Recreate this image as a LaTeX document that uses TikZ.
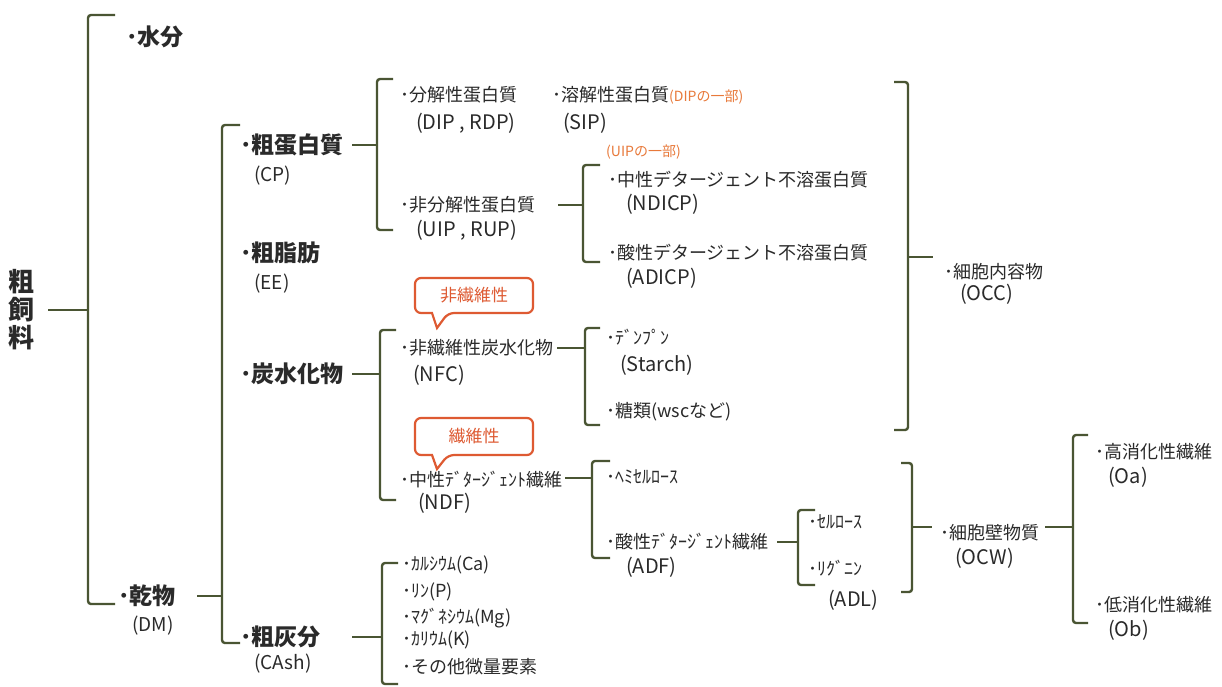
\documentclass[tikz,border=0pt]{standalone}
\usepackage{fontspec}
\setmainfont{Noto Sans CJK JP}
\definecolor{brc}{HTML}{4A5533}
\definecolor{txt}{HTML}{2A2A2A}
\definecolor{orc}{HTML}{E8793A}
\definecolor{clc}{HTML}{DE5A32}
\begin{document}
\begin{tikzpicture}[x=1pt,y=-1pt,
  br/.style={draw=brc,line width=2.4pt,rounded corners=3pt},
  tk/.style={draw=brc,line width=2.4pt},
  t/.style={anchor=west,inner sep=0pt,text=txt},
  big/.style={t,font=\fontsize{23}{23}\selectfont\bfseries},
  bab/.style={t,font=\fontsize{19}{19}\selectfont},
  mid/.style={t,font=\fontsize{18}{18}\selectfont},
  abb/.style={t,font=\fontsize{20}{20}\selectfont},
  ortx/.style={t,text=orc,font=\fontsize{14}{14}\selectfont},
  call/.style={draw=clc,line width=2.2pt,fill=white},
  calltext/.style={inner sep=0pt,text=clc,font=\fontsize{17}{17}\selectfont}]
\useasboundingbox (0,0) rectangle (1222,686);
\fill[white] (0,0) rectangle (1222,686);

% ---------- texts ----------
\node[t,align=center,anchor=center,font=\fontsize{26}{28}\selectfont\bfseries] (root) at (22,310) {粗\\飼\\料};
\node[big] (water) at (126,37) {･水分};
\node[big] (dm) at (118,596) {･乾物};
\node[bab] (dmab) at (132,626) {(DM)};

\node[big] (cp) at (240,145) {･粗蛋白質};
\node[bab] (cpab) at (254,176) {(CP)};
\node[big] (ee) at (240,253) {･粗脂肪};
\node[bab] (eeab) at (254,284) {(EE)};
\node[big] (cho) at (240,374) {･炭水化物};
\node[big] (ash) at (240,637) {･粗灰分};
\node[bab] (ashab) at (254,664) {(CAsh)};

\node[mid] (dip) at (400,95) {･分解性蛋白質};
\node[abb] (dipab) at (416,123) {(DIP , RDP)};
\node[mid] (sip) at (552,95) {･溶解性蛋白質{\color{orc}\fontsize{14}{14}\selectfont(DIPの一部)}};
\node[abb] (sipab) at (563,123) {(SIP)};
\node[ortx] (uipp) at (606,152) {(UIPの一部)};
\node[mid] (uip) at (400,205) {･非分解性蛋白質};
\node[abb] (uipab) at (416,230) {(UIP , RUP)};
\node[mid] (ndicp) at (608,180) {･中性デタージェント不溶蛋白質};
\node[abb] (ndicpab) at (626,204) {(NDICP)};
\node[mid] (adicp) at (608,253) {･酸性デタージェント不溶蛋白質};
\node[abb] (adicpab) at (626,278) {(ADICP)};
\node[mid] (occ) at (944,272) {･細胞内容物};
\node[abb] (occab) at (960,294) {(OCC)};

\node[mid] (nfc) at (400,348) {･非繊維性炭水化物};
\node[abb] (nfcab) at (413,375) {(NFC)};
\node[mid] (starch) at (606,337) {･ﾃﾞﾝﾌﾟﾝ};
\node[abb] (starchab) at (620,365) {(Starch)};
\node[mid] (sugar) at (606,412) {･糖類(wscなど)};

\node[mid] (ndf) at (400,480) {･中性ﾃﾞﾀｰｼﾞｪﾝﾄ繊維};
\node[abb] (ndfab) at (418,503) {(NDF)};
\node[mid] (hemi) at (606,477) {･ﾍﾐｾﾙﾛｰｽ};
\node[mid] (adf) at (606,542) {･酸性ﾃﾞﾀｰｼﾞｪﾝﾄ繊維};
\node[abb] (adfab) at (626,567) {(ADF)};
\node[mid] (cell) at (808,522) {･ｾﾙﾛｰｽ};
\node[mid] (lig) at (808,568) {･ﾘｸﾞﾆﾝ};
\node[abb] (ligab) at (828,600) {(ADL)};
\node[mid] (ocw) at (940,533) {･細胞壁物質};
\node[abb] (ocwab) at (955,558) {(OCW)};
\node[mid] (oa) at (1095,452) {･高消化性繊維};
\node[abb] (oaab) at (1108,477) {(Oa)};
\node[mid] (ob) at (1095,605) {･低消化性繊維};
\node[abb] (obab) at (1108,630) {(Ob)};

\node[mid] (ca) at (402,565) {･ｶﾙｼｳﾑ(Ca)};
\node[mid] (p) at (402,592) {･ﾘﾝ(P)};
\node[mid] (mg) at (402,618) {･ﾏｸﾞﾈｼｳﾑ(Mg)};
\node[mid] (k) at (402,640) {･ｶﾘｳﾑ(K)};
\node[mid] (etc) at (402,667) {･その他微量要素};

% ---------- callouts ----------
\draw[call] (415,295) [rounded corners=6pt] -- (415,278) -- (533,278) -- (533,313) -- (448,313) [sharp corners] -- (437,328) -- (432,313) [rounded corners=6pt] -- (415,313) -- cycle;
\node[calltext] (c1) at (474,295) {非繊維性};
\draw[call] (415,436) [rounded corners=6pt] -- (415,418) -- (533,418) -- (533,455) -- (448,455) [sharp corners] -- (437,469) -- (432,455) [rounded corners=6pt] -- (415,455) -- cycle;
\node[calltext] (c2) at (474,436) {繊維性};

% ---------- brackets ----------
% B1 root
\coordinate (j1) at (88,310);
\draw[br] (115,15) -- (88,15) -- (88,604) -- (115,604);
\draw[tk] (48,310) -- (j1);
% B2 dry matter
\coordinate (j2) at (222,596);
\draw[br] (240,125) -- (222,125) -- (222,643) -- (240,643);
\draw[tk] (197,596) -- (j2);
% B3 CP
\coordinate (j3) at (377,145);
\draw[br] (393,79) -- (377,79) -- (377,230) -- (393,230);
\draw[tk] (352,145) -- (j3);
% B4 UIP
\coordinate (j4) at (583,205);
\draw[br] (600,165) -- (583,165) -- (583,262) -- (600,262);
\draw[tk] (558,205) -- (j4);
% B5 carbohydrate
\coordinate (j5) at (380,374);
\draw[br] (396,330) -- (380,330) -- (380,500) -- (396,500);
\draw[tk] (352,374) -- (j5);
% B6 NFC
\coordinate (j6) at (585,348);
\draw[br] (600,328) -- (585,328) -- (585,425) -- (600,425);
\draw[tk] (557,348) -- (j6);
% B7 NDF
\coordinate (j7) at (592,478);
\draw[br] (610,461) -- (592,461) -- (592,558) -- (610,558);
\draw[tk] (565,478) -- (j7);
% B8 ADF
\coordinate (j8) at (798,542);
\draw[br] (815,510) -- (798,510) -- (798,585) -- (815,585);
\draw[tk] (777,542) -- (j8);
% B9 ash
\coordinate (j9) at (382,637);
\draw[br] (398,563) -- (382,563) -- (382,684) -- (398,684);
\draw[tk] (352,637) -- (j9);
% B10 OCW
\coordinate (j10) at (1073,527);
\draw[br] (1088,435) -- (1073,435) -- (1073,623) -- (1088,623);
\draw[tk] (1045,527) -- (j10);
% R1 OCC
\coordinate (r1) at (908,257);
\draw[br] (894,82) -- (908,82) -- (908,430) -- (894,430);
\draw[tk] (r1) -- (933,257);
% R2 OCW
\coordinate (r2) at (912,527);
\draw[br] (901,463) -- (912,463) -- (912,592) -- (901,592);
\draw[tk] (r2) -- (932,527);
\end{tikzpicture}
\end{document}
